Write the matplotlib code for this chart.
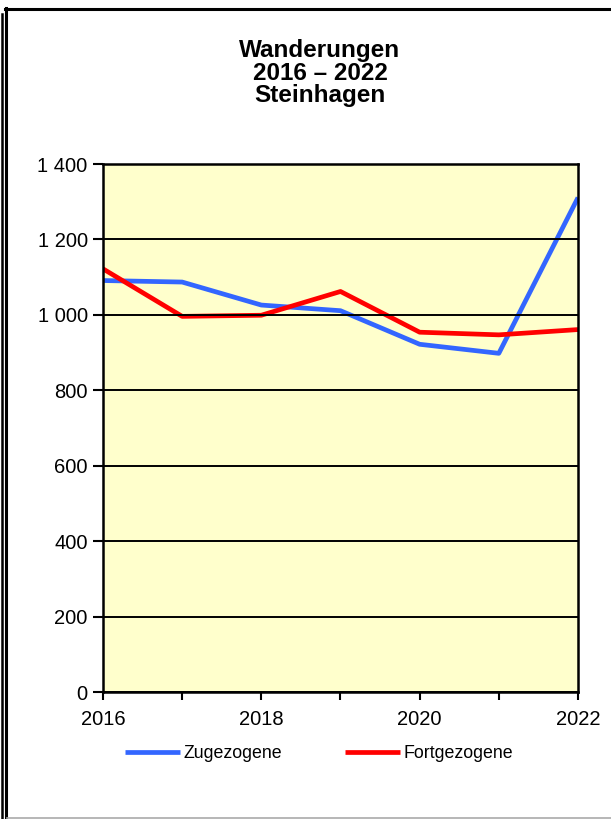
import matplotlib.pyplot as plt
from matplotlib.lines import Line2D
from matplotlib.ticker import FuncFormatter, MultipleLocator

plt.rcParams['font.family'] = ['Liberation Sans', 'DejaVu Sans']

years = [2016, 2017, 2018, 2019, 2020, 2021, 2022]
zugezogene = [1091, 1087, 1026, 1011, 922, 898, 1311]
fortgezogene = [1122, 996, 999, 1062, 954, 947, 961]
title = "Wanderungen\n2016 – 2022\nSteinhagen"

W, H = 611, 819
fig = plt.figure(figsize=(W / 100, H / 100), dpi=100)
ax = fig.add_axes([103 / W, 1 - 692 / H, (578 - 103) / W, (692 - 164) / H])
ax.set_facecolor('#ffffcc')

ax.plot(years, zugezogene, color='#3366ff', lw=3.4, label='Zugezogene', solid_capstyle='butt')
ax.plot(years, fortgezogene, color='#ff0000', lw=3.4, label='Fortgezogene', solid_capstyle='butt')

ax.set_xlim(2016, 2022)
ax.set_ylim(0, 1400)
ax.yaxis.set_major_locator(MultipleLocator(200))
ax.yaxis.set_major_formatter(FuncFormatter(lambda v, p: f"{int(v):,}".replace(",", " ")))
ax.xaxis.set_major_locator(MultipleLocator(2))
ax.xaxis.set_minor_locator(MultipleLocator(1))
ax.grid(axis='y', color='black', lw=1.4)
ax.set_axisbelow(False)
for s in ax.spines.values():
    s.set_linewidth(1.8)
ax.tick_params(axis='both', which='both', direction='out', width=1.5, colors='black', labelsize=14.5)
ax.tick_params(axis='y', length=7, pad=4)
ax.tick_params(axis='x', which='both', length=6, pad=7)

fig.text(320 / W, 1 - 73 / H, title, ha='center', va='center', fontsize=17.5,
         fontweight='bold', linespacing=0.96)

fig.legend(loc='center', bbox_to_anchor=(319 / W, 1 - 754 / H), ncol=2, frameon=False,
           fontsize=12.8, handlelength=3.1, handletextpad=0.2, columnspacing=3.5)

# outer frame lines
def px_line(x0, y0, x1, y1, color='black', lw=2.0):
    fig.add_artist(Line2D([x0 / W, x1 / W], [1 - y0 / H, 1 - y1 / H], color=color, lw=lw,
                          transform=fig.transFigure))

px_line(1.5, 14, 1.5, H, lw=1.8)
px_line(6, 8, 6, H, lw=2.2)
px_line(5, 9, W, 9, lw=2.2)
px_line(7, 818, W, 818, color='#aaaaaa', lw=1.2)

fig.savefig('out.png', dpi=100)
